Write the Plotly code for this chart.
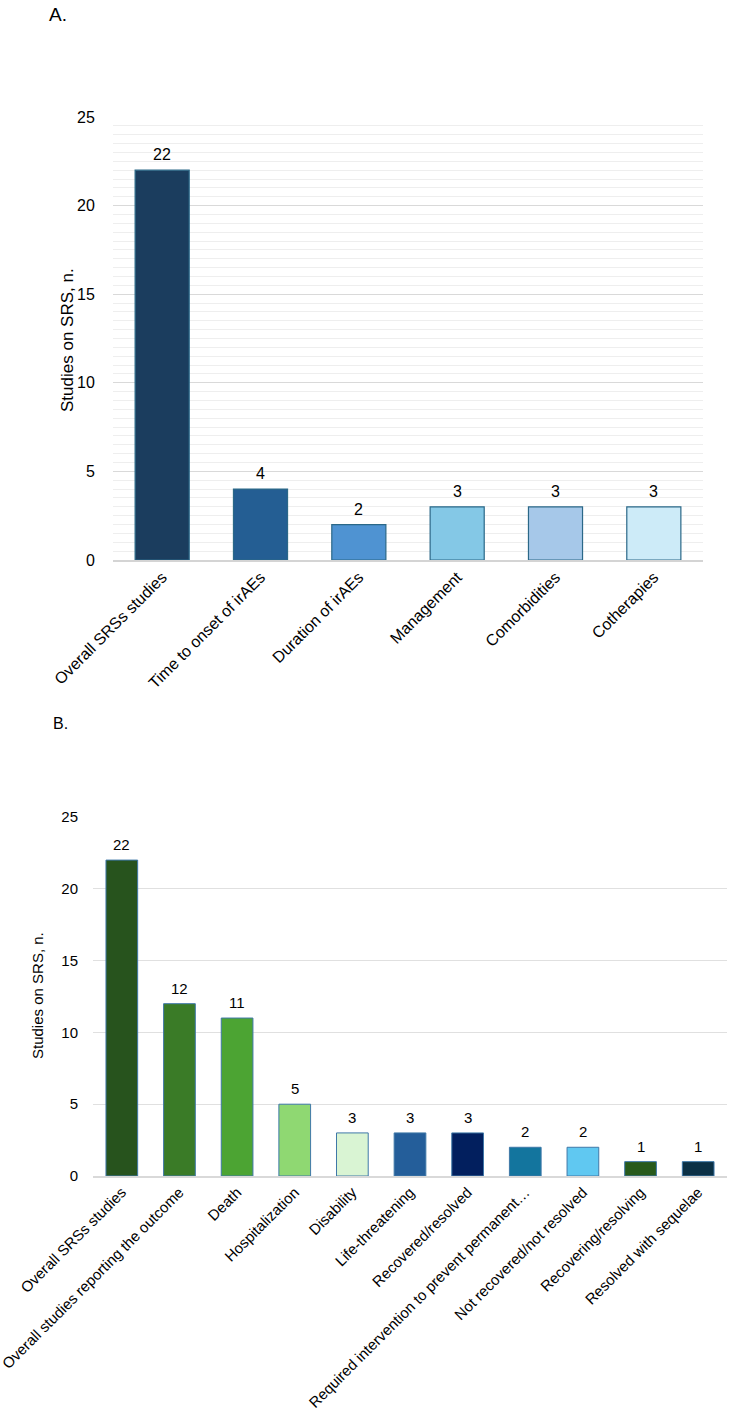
import plotly.graph_objects as go

# Panel A data
cats_a = ["Overall SRSs studies", "Time to onset of irAEs", "Duration of irAEs",
          "Management", "Comorbidities", "Cotherapies"]
vals_a = [22, 4, 2, 3, 3, 3]
colors_a = ["#1b3d5e", "#245e93", "#4f93d2", "#84c8e6", "#a6c8e9", "#cdebf8"]

# Panel B data
cats_b = ["Overall SRSs studies", "Overall studies reporting the outcome", "Death",
          "Hospitalization", "Disability", "Life-threatening", "Recovered/resolved",
          "Required intervention to prevent permanent…", "Not recovered/not resolved",
          "Recovering/resolving", "Resolved with sequelae"]
vals_b = [22, 12, 11, 5, 3, 3, 3, 2, 2, 1, 1]
colors_b = ["#27531d", "#3a7b27", "#4ca433", "#8fd872", "#d9f4d3", "#245e9a",
            "#021f5e", "#13759e", "#60c8f1", "#285a1b", "#0b3045"]

y_ticks = [0, 5, 10, 15, 20, 25]

W, H = 734, 1410
FONT = "Liberation Sans, Arial, sans-serif"

fig = go.Figure()
fig.add_trace(go.Bar(
    x=cats_a, y=vals_a, marker=dict(color=colors_a, line=dict(color="#2b6888", width=1.2)),
    xaxis="x", yaxis="y", showlegend=False))
fig.add_trace(go.Bar(
    x=cats_b, y=vals_b, marker=dict(color=colors_b, line=dict(color="#3f78a8", width=1)),
    xaxis="x2", yaxis="y2", showlegend=False))


def px_x(p):
    return p / W


def px_y(p):
    return 1 - p / H


annotations = [
    dict(text="A.", x=px_x(47), y=px_y(15), xref="paper", yref="paper",
         xanchor="left", yanchor="middle", showarrow=False, font=dict(size=19)),
    dict(text="B.", x=px_x(51), y=px_y(723), xref="paper", yref="paper",
         xanchor="left", yanchor="middle", showarrow=False, font=dict(size=16)),
    dict(text="Studies on SRS, n.", x=px_x(67), y=px_y(340), xref="paper", yref="paper",
         xanchor="center", yanchor="middle", textangle=-90, showarrow=False,
         font=dict(size=17)),
    dict(text="Studies on SRS, n.", x=px_x(37), y=px_y(996), xref="paper", yref="paper",
         xanchor="center", yanchor="middle", textangle=-90, showarrow=False,
         font=dict(size=15)),
]
for c, v in zip(cats_a, vals_a):
    annotations.append(dict(text=str(v), x=c, y=v, xref="x", yref="y",
                            xanchor="center", yanchor="bottom", yshift=5,
                            showarrow=False, font=dict(size=16)))
for c, v in zip(cats_b, vals_b):
    annotations.append(dict(text=str(v), x=c, y=v, xref="x2", yref="y2",
                            xanchor="center", yanchor="bottom", yshift=5,
                            showarrow=False, font=dict(size=15)))

fig.update_layout(
    width=W, height=H,
    margin=dict(l=0, r=0, t=0, b=0),
    paper_bgcolor="white", plot_bgcolor="white",
    font=dict(family=FONT, color="#000000"),
    bargap=0.45,
    xaxis=dict(domain=[px_x(113), px_x(703)], anchor="y", tickangle=-45,
               tickfont=dict(size=16), showline=True, linecolor="#d4d4d4", linewidth=1.5,
               showgrid=False, ticks="", automargin=False),
    yaxis=dict(domain=[px_y(560), px_y(117)], anchor="x", range=[0, 25],
               tickvals=y_ticks, tickfont=dict(size=16), showgrid=True,
               gridcolor="#d9d9d9", zeroline=False, ticks="outside", ticklen=14,
               tickcolor="rgba(0,0,0,0)",
               minor=dict(dtick=0.5, showgrid=True, gridcolor="#eeeeee", ticks=""),
               automargin=False),
    xaxis2=dict(domain=[px_x(93), px_x(727)], anchor="y2", tickangle=-45,
                tickfont=dict(size=15), showline=True, linecolor="#d9d9d9", linewidth=1.5,
                showgrid=False, ticks="", automargin=False),
    yaxis2=dict(domain=[px_y(1176), px_y(817)], anchor="x2", range=[0, 25],
                tickvals=y_ticks, tickfont=dict(size=15), showgrid=True,
                gridcolor="#e0e0e0", zeroline=False, ticks="outside", ticklen=11,
                tickcolor="rgba(0,0,0,0)", automargin=False),
    annotations=annotations,
)

fig.write_html("out.html")
